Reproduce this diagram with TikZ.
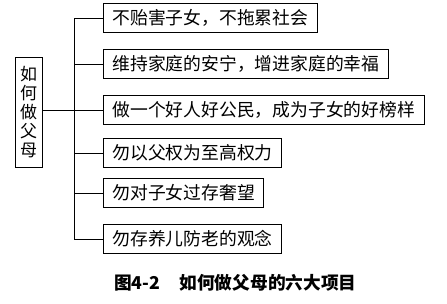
\documentclass[tikz,border=0pt]{standalone}
\usepackage{fontspec}
\newfontfamily\cjk{Noto Sans CJK SC}
\usetikzlibrary{positioning}

\begin{document}
\begin{tikzpicture}[
  x=0.03cm, y=-0.03cm,
  itembox/.style={draw, rectangle, line width=0.8pt, anchor=west, minimum height=0.87cm, inner xsep=0.27cm, font=\cjk\fontsize{15.2}{17}\selectfont},
  rootbox/.style={draw, rectangle, line width=0.8pt, minimum width=0.81cm, minimum height=3.3cm, align=center, inner sep=1pt, font=\cjk\fontsize{14.5}{16.2}\selectfont},
  link/.style={line width=0.8pt},
  captext/.style={font=\cjk\bfseries\fontsize{15.1}{18}\selectfont},
]
  \useasboundingbox (0,0) rectangle (447,303);

  \node[rootbox] (parent) at (28.5,112) {如\\何\\做\\父\\母};

  \node[itembox] (b1) at (103,18)  {不贻害子女，不拖累社会};
  \node[itembox] (b2) at (103,64)  {维持家庭的安宁，增进家庭的幸福};
  \node[itembox] (b3) at (103,110) {做一个好人好公民，成为子女的好榜样};
  \node[itembox] (b4) at (103,153) {勿以父权为至高权力};
  \node[itembox] (b5) at (103,193) {勿对子女过存奢望};
  \node[itembox] (b6) at (103,239) {勿存养儿防老的观念};

  \draw[link] (b1.west) -- ++(-29,0) |- (b6.west);
  \draw[link] (b2.west) -- ++(-29,0);
  \draw[link] (b4.west) -- ++(-29,0);
  \draw[link] (b5.west) -- ++(-29,0);
  \draw[link] (parent.east |- b3.west) -- (b3.west);

  \node[captext, anchor=west] (caption) at (110,283) {图4-2\hspace{1.1em}如何做父母的六大项目};
\end{tikzpicture}
\end{document}
